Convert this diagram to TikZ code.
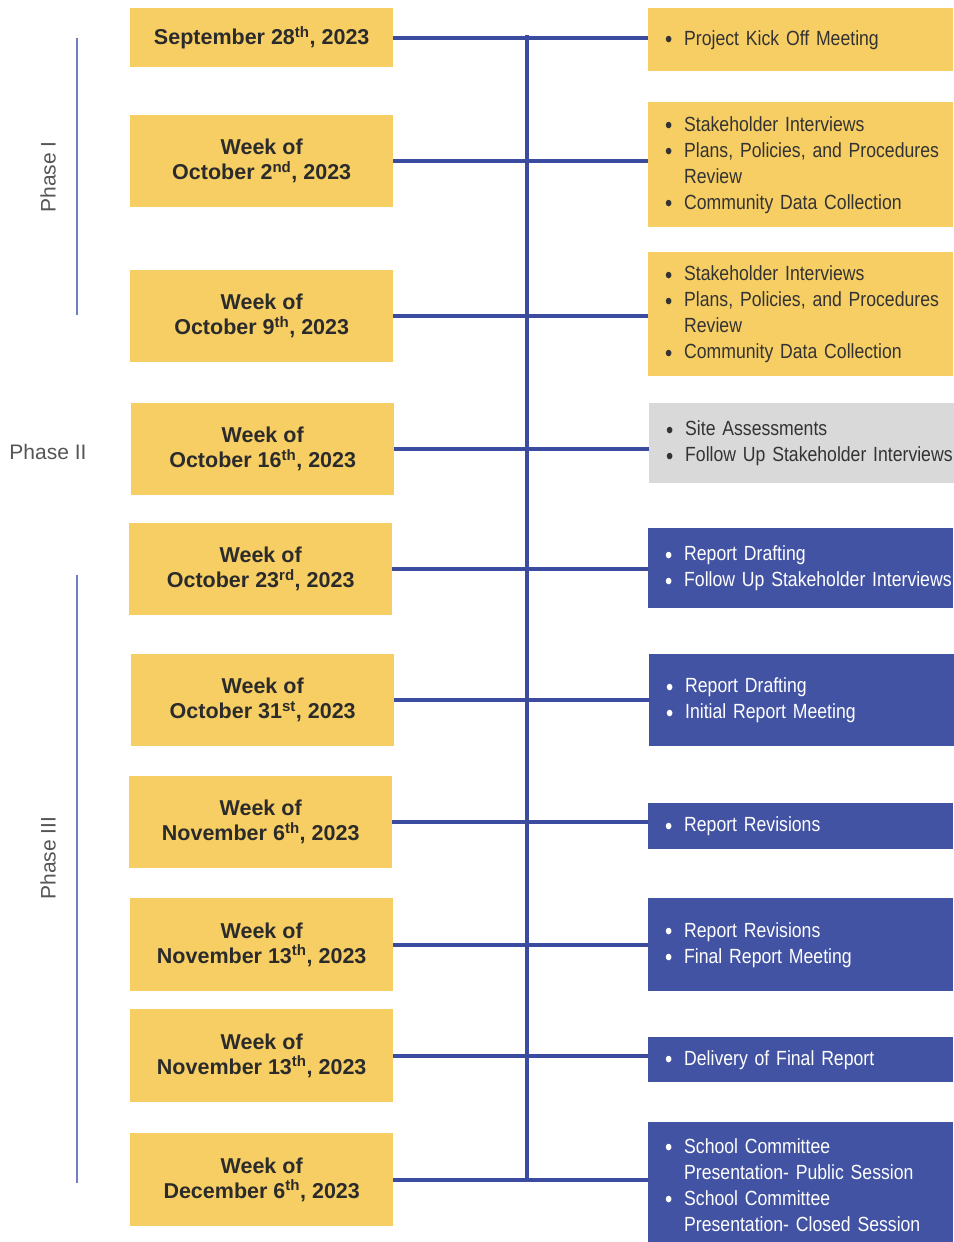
\documentclass[tikz,border=0pt]{standalone}
\usepackage{fontspec}
\setmainfont{Liberation Sans}
\newfontfamily\narrowfont[FakeStretch=0.86]{Liberation Sans}
\definecolor{ybox}{HTML}{F6CE63}
\definecolor{bbox}{HTML}{4353A3}
\definecolor{gbox}{HTML}{D9D9D9}
\definecolor{trunkc}{HTML}{3B4CA0}
\definecolor{phasec}{HTML}{6F7FC0}
\definecolor{dtext}{HTML}{2B2B2B}
\definecolor{ttext}{HTML}{333333}
\definecolor{ptext}{HTML}{555555}
\newcommand{\bitem}[1]{\makebox[19pt][l]{\raisebox{-2.5pt}{\fontsize{24}{24}\selectfont\textbullet}}\mbox{#1}}
\newcommand{\bcont}[1]{\hspace*{19pt}\mbox{#1}}
\begin{document}
\begin{tikzpicture}[x=1pt,y=-1pt,
  datebox/.style={fill=ybox, draw=none, minimum width=263pt, minimum height=#1, anchor=north west, inner sep=0pt, align=center, font=\fontsize{21.5}{25}\selectfont\bfseries, text=dtext},
  taskbox/.style 2 args={fill=#2, draw=none, minimum height=#1, anchor=north west, text width=271pt, inner xsep=17pt, inner ysep=0pt, align=left, font=\narrowfont\fontsize{20.5}{26}\selectfont},
  ytask/.style={taskbox={#1}{ybox}, text=ttext},
  gtask/.style={taskbox={#1}{gbox}, text=ttext},
  btask/.style={taskbox={#1}{bbox}, text=white},
  conn/.style={draw=trunkc, line width=4pt},
  trunk/.style={draw=trunkc, line width=4.5pt, line cap=rect},
  phaseline/.style={draw=phasec, line width=2.5pt},
  phaselbl/.style={font=\fontsize{21}{25}\selectfont, text=ptext, inner sep=0pt}
]
\useasboundingbox (0,0) rectangle (953,1242);

% left date boxes
\node[datebox=59pt] (L1) at (130,8) {September 28\textsuperscript{th}, 2023};
\node[datebox=92pt] (L2) at (130,115) {Week of\\October 2\textsuperscript{nd}, 2023};
\node[datebox=92pt] (L3) at (130,270) {Week of\\October 9\textsuperscript{th}, 2023};
\node[datebox=92pt] (L4) at (131,403) {Week of\\October 16\textsuperscript{th}, 2023};
\node[datebox=92pt] (L5) at (129,523) {Week of\\October 23\textsuperscript{rd}, 2023};
\node[datebox=92pt] (L6) at (131,654) {Week of\\October 31\textsuperscript{st}, 2023};
\node[datebox=92pt] (L7) at (129,776) {Week of\\November 6\textsuperscript{th}, 2023};
\node[datebox=93pt] (L8) at (130,898) {Week of\\November 13\textsuperscript{th}, 2023};
\node[datebox=93pt] (L9) at (130,1009) {Week of\\November 13\textsuperscript{th}, 2023};
\node[datebox=93pt] (L10) at (130,1133) {Week of\\December 6\textsuperscript{th}, 2023};

% right task boxes
\node[ytask=63pt] (R1) at (648,8) {\bitem{Project Kick Off Meeting}};
\node[ytask=125pt] (R2) at (648,102) {\bitem{Stakeholder Interviews}\\\bitem{Plans, Policies, and Procedures}\\\bcont{Review}\\\bitem{Community Data Collection}};
\node[ytask=124pt] (R3) at (648,252) {\bitem{Stakeholder Interviews}\\\bitem{Plans, Policies, and Procedures}\\\bcont{Review}\\\bitem{Community Data Collection}};
\node[gtask=80pt] (R4) at (649,403) {\bitem{Site Assessments}\\\bitem{Follow Up Stakeholder Interviews}};
\node[btask=80pt] (R5) at (648,528) {\bitem{Report Drafting}\\\bitem{Follow Up Stakeholder Interviews}};
\node[btask=92pt] (R6) at (649,654) {\bitem{Report Drafting}\\\bitem{Initial Report Meeting}};
\node[btask=46pt] (R7) at (648,803) {\bitem{Report Revisions}};
\node[btask=93pt] (R8) at (648,898) {\bitem{Report Revisions}\\\bitem{Final Report Meeting}};
\node[btask=45pt] (R9) at (648,1037) {\bitem{Delivery of Final Report}};
\node[btask=125pt] (R10) at (648,1122) {\bitem{School Committee}\\\bcont{Presentation- Public Session}\\\bitem{School Committee}\\\bcont{Presentation- Closed Session}};

% connectors
\foreach \k in {1,...,10} {
  \draw[conn] (L\k.east) -- (L\k.east -| R\k.west);
}
\coordinate (tk) at (527,0);
\draw[trunk] (tk |- L1.east) -- (tk |- L10.east);

% phases
\draw[phaseline] (77,38) -- (77,315);
\draw[phaseline] (77,575) -- (77,1183);
\node[phaselbl, rotate=90] (P1) at (48,177) {Phase I};
\node[phaselbl] (P2) at (48,452) {Phase II};
\node[phaselbl, rotate=90] (P3) at (48,858) {Phase III};
\end{tikzpicture}
\end{document}
